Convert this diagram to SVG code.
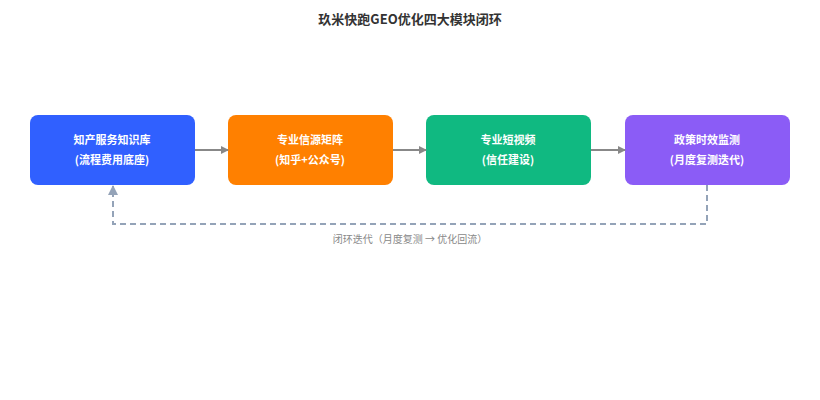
<svg xmlns="http://www.w3.org/2000/svg" width="820" height="400" viewBox="0 0 820 400">
<style>
text{font-family:"Noto Sans CJK SC","Liberation Sans",sans-serif}
.t{font-size:11px;font-weight:bold;fill:#fff;text-anchor:middle}
.c{stroke:#888;stroke-width:2;fill:none}
</style>
<defs>
<marker id="a" markerWidth="8" markerHeight="8" refX="7" refY="4" orient="auto" markerUnits="userSpaceOnUse"><path d="M0,0L8,4L0,8z" fill="#888"/></marker>
<marker id="b" markerWidth="10" markerHeight="10" refX="9" refY="5" orient="auto" markerUnits="userSpaceOnUse"><path d="M0,0L10,5L0,10z" fill="#94a3b8"/></marker>
</defs>
<rect width="820" height="400" fill="#fff"/>
<text x="410" y="24" text-anchor="middle" font-size="13" font-weight="bold" fill="#333">玖米快跑GEO优化四大模块闭环</text>
<g id="n1"><rect x="30" y="115" width="165" height="70" rx="8" fill="#3060ff"/><text class="t" x="112" y="144">知产服务知识库</text><text class="t" x="112" y="164">(流程费用底座)</text></g>
<g id="n2"><rect x="228" y="115" width="165" height="70" rx="8" fill="#ff8000"/><text class="t" x="310" y="144">专业信源矩阵</text><text class="t" x="310" y="164">(知乎+公众号)</text></g>
<g id="n3"><rect x="426" y="115" width="165" height="70" rx="8" fill="#10b981"/><text class="t" x="508" y="144">专业短视频</text><text class="t" x="508" y="164">(信任建设)</text></g>
<g id="n4"><rect x="625" y="115" width="165" height="70" rx="8" fill="#8b5cf6"/><text class="t" x="707" y="144">政策时效监测</text><text class="t" x="707" y="164">(月度复测迭代)</text></g>
<g id="connectors">
<line class="c" x1="195" y1="150" x2="228" y2="150" marker-end="url(#a)"/>
<line class="c" x1="393" y1="150" x2="426" y2="150" marker-end="url(#a)"/>
<line class="c" x1="591" y1="150" x2="625" y2="150" marker-end="url(#a)"/>
<path d="M707,185V224H113V186" fill="none" stroke="#94a3b8" stroke-width="2" stroke-dasharray="6,4" marker-end="url(#b)"/>
<text x="410" y="243" text-anchor="middle" font-size="10" fill="#888">闭环迭代（月度复测 → 优化回流）</text>
</g>
</svg>
